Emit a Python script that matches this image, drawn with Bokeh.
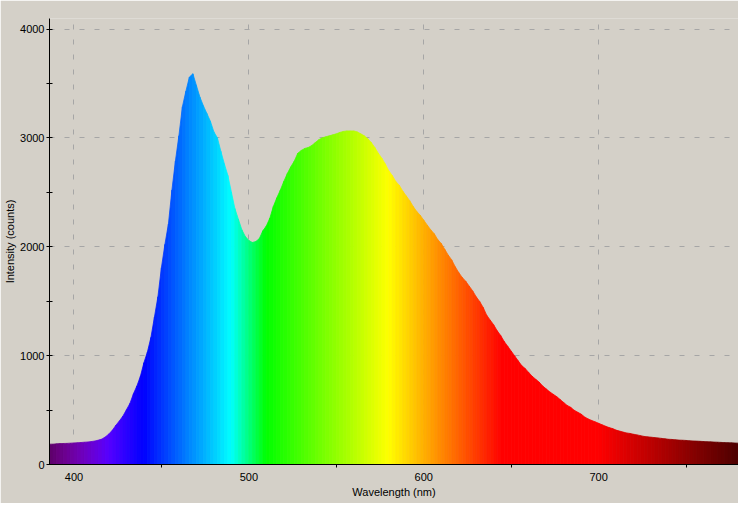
import numpy as np
from bokeh.plotting import figure
from bokeh.models import FixedTicker, Range1d, ColumnDataSource
from bokeh.embed import file_html
from bokeh.resources import INLINE

# ---- data ----
wl_start, wl_stop, wl_step = 386, 780, 2
wavelength = np.arange(wl_start, wl_stop + 1, wl_step)
intensity = [
    187, 187, 190, 192, 193, 194, 196, 198, 200, 202, 205, 207,
    211, 216, 224, 234, 254, 281, 316, 361, 401, 445, 503, 561, 650, 722, 811, 935, 1034, 1167, 1354, 1541,
    1808, 2022, 2209, 2521, 2788, 3020, 3287, 3430, 3560, 3590, 3483, 3376, 3296, 3225, 3154, 3056, 3002, 2877, 2762, 2655,
    2503, 2352, 2254, 2156, 2094, 2058, 2040, 2049, 2076, 2147, 2192, 2263, 2370, 2450, 2521, 2601, 2673, 2735, 2788, 2860,
    2886, 2904, 2913, 2931, 2958, 2984, 3002, 3011, 3020, 3029, 3038, 3051, 3060, 3065, 3065, 3065, 3056, 3038, 3020, 2993,
    2958, 2913, 2860, 2815, 2762, 2699, 2655, 2601, 2566, 2512, 2468, 2423, 2370, 2325, 2290, 2245, 2200, 2156, 2120, 2067,
    2031, 1978, 1924, 1880, 1817, 1764, 1719, 1684, 1639, 1595, 1541, 1497, 1443, 1372, 1327, 1283, 1229, 1185, 1131, 1087,
    1042, 998, 953, 909, 882, 846, 811, 784, 757, 722, 695, 668, 646, 624, 597, 570, 543, 526, 499, 481,
    463, 437, 419, 405, 392, 379, 365, 352, 339, 330, 316, 307, 298, 290, 285, 278, 272, 265, 258, 254,
    251, 247, 244, 240, 236, 232, 230, 227, 224, 223, 221, 218, 216, 215, 213, 211, 209, 208, 206, 205,
    203, 201, 200, 199, 197, 196,
]
x_ticks = [400, 500, 600, 700]
x_minor = [450, 550, 650, 750]
y_ticks = [0, 1000, 2000, 3000, 4000]
y_minor = [500, 1500, 2500, 3500]
x_label = "Wavelength (nm)"
y_label = "Intensity (counts)"


def wl_color(w):
    if w < 440:
        r, g, b = -(w - 440) / 60.0, 0.0, 1.0
    elif w < 490:
        r, g, b = 0.0, (w - 440) / 50.0, 1.0
    elif w < 510:
        r, g, b = 0.0, 1.0, -(w - 510) / 20.0
    elif w < 580:
        r, g, b = (w - 510) / 70.0, 1.0, 0.0
    elif w < 645:
        r, g, b = 1.0, -(w - 645) / 65.0, 0.0
    else:
        r, g, b = 1.0, 0.0, 0.0
    if w < 420:
        f = 0.3 + 0.7 * (w - 380) / 40.0
    elif w > 700:
        f = 0.3 + 0.7 * (780 - w) / 80.0
    else:
        f = 1.0
    to = lambda c: int(round(max(0.0, min(1.0, c * f)) * 255))
    return "#%02x%02x%02x" % (to(r), to(g), to(b))


# one filled trapezoid per pair of neighbouring samples, coloured by wavelength
xs, ys, cols = [], [], []
for i in range(len(wavelength) - 1):
    w0, w1 = float(wavelength[i]), float(wavelength[i + 1])
    v0, v1 = intensity[i], intensity[i + 1]
    xs.append([w0, w0, w1, w1])
    ys.append([0, v0, v1, 0])
    cols.append(wl_color(0.5 * (w0 + w1)))
src = ColumnDataSource(dict(xs=xs, ys=ys, color=cols))

BG = "#d4d0c8"
p = figure(width=738, height=503, output_backend="svg", toolbar_location=None,
           x_range=Range1d(wl_start, wl_stop), y_range=Range1d(0, 4098),
           min_border_left=49, min_border_right=0, min_border_top=18, min_border_bottom=39)
p.background_fill_color = BG
p.border_fill_color = BG
p.outline_line_color = None

p.patches(xs="xs", ys="ys", fill_color="color", line_color="color", line_width=0.8,
          source=src)

p.xaxis.ticker = FixedTicker(ticks=x_ticks, minor_ticks=x_minor)
p.yaxis.ticker = FixedTicker(ticks=y_ticks, minor_ticks=y_minor)
p.xgrid.ticker = FixedTicker(ticks=x_ticks)
p.ygrid.ticker = FixedTicker(ticks=y_ticks[1:])

for g in (p.xgrid, p.ygrid):
    g.grid_line_color = "#a6a6a6"
    g.grid_line_dash = "5 10"
    g.grid_line_width = 1

for ax in (p.xaxis, p.yaxis):
    ax.axis_line_color = "black"
    ax.axis_line_width = 1
    ax.major_tick_line_color = "black"
    ax.minor_tick_line_color = "black"
    ax.major_label_text_font = "Liberation Sans"
    ax.major_label_text_font_size = "11px"
    ax.major_label_text_color = "black"
    ax.axis_label_text_font = "Liberation Sans"
    ax.axis_label_text_font_size = "11px"
    ax.axis_label_text_font_style = "normal"
    ax.axis_label_text_color = "black"

p.xaxis.axis_label = x_label
p.yaxis.axis_label = y_label
p.xaxis.major_tick_in = 0
p.xaxis.major_tick_out = 0
p.xaxis.minor_tick_in = 0
p.xaxis.minor_tick_out = 3
p.xaxis.major_label_standoff = 5
p.xaxis.axis_label_standoff = 2
p.yaxis.major_tick_in = 3
p.yaxis.major_tick_out = 3
p.yaxis.minor_tick_in = 3
p.yaxis.minor_tick_out = 3
p.yaxis.major_label_standoff = 2
p.yaxis.axis_label_standoff = 1

open("out.html", "w").write(file_html(p, INLINE))
